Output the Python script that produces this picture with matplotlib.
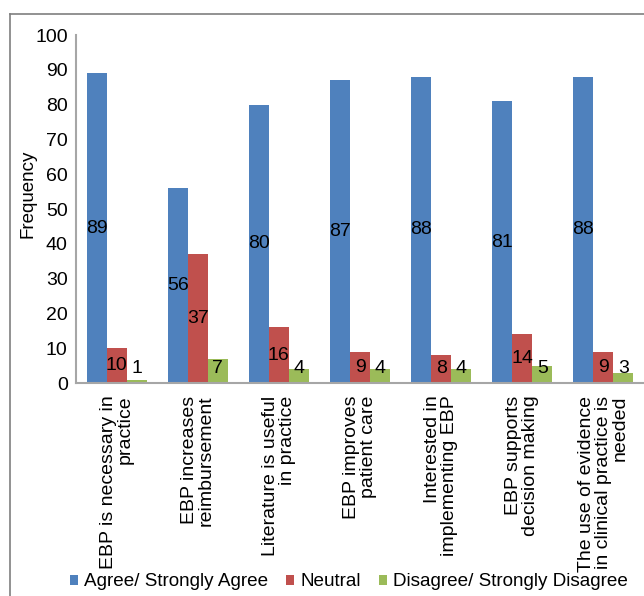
import matplotlib.pyplot as plt
import numpy as np
from matplotlib.lines import Line2D
from matplotlib.patches import Patch
from matplotlib import font_manager

plt.rcParams['font.family'] = ['Liberation Sans', 'DejaVu Sans']
names = {f.name for f in font_manager.fontManager.ttflist}
narrow = 'Liberation Sans Narrow' if 'Liberation Sans Narrow' in names else 'Liberation Sans'
print(narrow)

# ----- Data -----
categories = [
    "EBP is necessary in\npractice",
    "EBP increases\nreimbursement",
    "Literature is useful\nin practice",
    "EBP improves\npatient care",
    "Interested in\nimplementing EBP",
    "EBP supports\ndecision making",
    "The use of evidence\nin clinical practice is\nneeded",
]
agree = [89, 56, 80, 87, 88, 81, 88]
neutral = [10, 37, 16, 9, 8, 14, 9]
disagree = [1, 7, 4, 4, 4, 5, 3]
series_names = ["Agree/ Strongly Agree", "Neutral", "Disagree/ Strongly Disagree"]
colors = ["#4F81BD", "#C0504D", "#9BBB59"]

W, H = 644, 596
fig = plt.figure(figsize=(W / 100, H / 100), dpi=100)
ax = fig.add_axes([76 / W, 1 - 383 / H, (W - 76) / W, (383 - 35) / H])

x = np.arange(len(categories))
bw = 20 / 81
for k, (vals, col) in enumerate(zip([agree, neutral, disagree], colors)):
    pos = x + (k - 1) * bw
    ax.bar(pos, vals, width=bw, color=col, edgecolor='none')
    for px, v in zip(pos, vals):
        ax.text(px, max(v / 2, 4.3), str(v), ha='center', va='center',
                fontsize=14, color='black')

ax.set_xlim(-0.5, len(categories) - 0.5)
ax.set_ylim(0, 100)
ax.set_yticks(range(0, 101, 10))
ax.tick_params(axis='y', length=0, pad=6)
for lab in ax.get_yticklabels():
    lab.set_fontfamily(narrow)
    lab.set_fontsize(14)
ax.set_xticks(x)
ax.set_xticklabels(categories, rotation=90, ha='center', va='top',
                   multialignment='right', fontsize=14, linespacing=1.0)
ax.tick_params(axis='x', length=0, pad=9)

for s in ['top', 'right']:
    ax.spines[s].set_visible(False)
for s in ['left', 'bottom']:
    ax.spines[s].set_color('#A6A6A6')
    ax.spines[s].set_linewidth(1.5)

fig.text(28 / W, 1 - 194 / H, "Frequency", rotation=90, ha='center',
         va='center', fontsize=13.5)

# figure border (only top and left visible)
fig.add_artist(Line2D([10 / W, 10 / W], [0, 1 - 14 / H], transform=fig.transFigure,
                      color='#7F7F7F', linewidth=1.2))
fig.add_artist(Line2D([10 / W, 1], [1 - 14 / H, 1 - 14 / H], transform=fig.transFigure,
                      color='#7F7F7F', linewidth=1.2))

handles = [Patch(facecolor=c, label=n) for c, n in zip(colors, series_names)]
fig.legend(handles=handles, loc='center', bbox_to_anchor=(349 / W, 1 - 582 / H),
           ncol=3, frameon=False, fontsize=13.6, handlelength=0.42,
           handleheight=0.42, handletextpad=0.32, columnspacing=0.95,
           borderpad=0, borderaxespad=0)

plt.savefig("out.png", dpi=100)
